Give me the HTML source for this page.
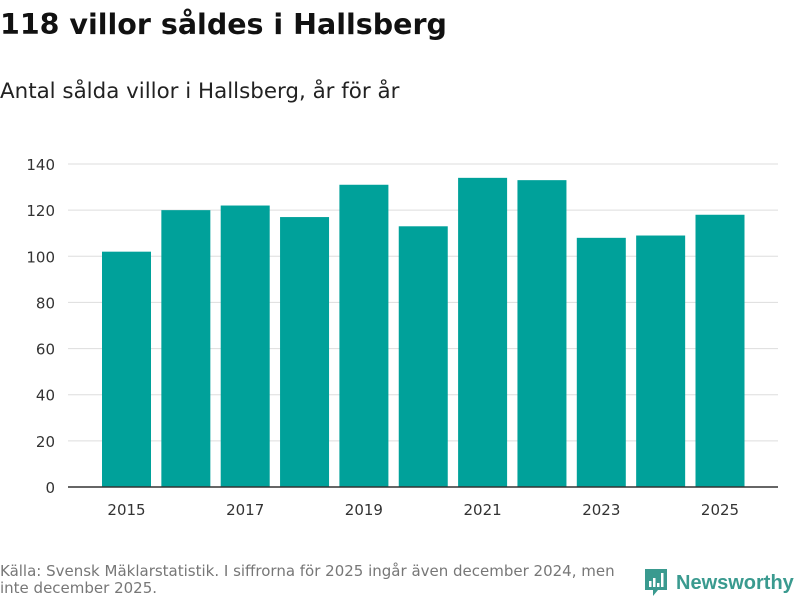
<!DOCTYPE html>
<html><head><meta charset="utf-8"><style>
body{margin:0;width:800px;height:600px;background:#fff;font-family:"DejaVu Sans","Liberation Sans",sans-serif;position:relative;overflow:hidden}
h1{position:absolute;left:0;top:8px;margin:0;font-size:28.5px;font-weight:bold;color:#111}
.sub{position:absolute;left:0;top:79px;font-size:21.4px;color:#222}
.src{position:absolute;left:0;top:563px;font-size:15px;color:#777;line-height:17px;width:645px}
.logo{position:absolute;left:644px;top:568px;display:flex;align-items:center;gap:8px;color:#3a9a8f;font-family:"Liberation Sans",sans-serif;font-size:20px;font-weight:bold}
</style></head><body>
<h1>118 villor såldes i Hallsberg</h1>
<div class="sub">Antal sålda villor i Hallsberg, år för år</div>
<svg id="chart" width="800" height="540" style="position:absolute;left:0;top:0"></svg>
<div class="src">Källa: Svensk Mäklarstatistik. I siffrorna för 2025 ingår även december 2024, men inte december 2025.</div>
<div class="logo"><svg width="24" height="30" viewBox="0 0 24 30"><path d="M1 1h22v21H14l-5 6v-6H1z" fill="#3a9a8f"/><rect x="5" y="13" width="2.5" height="6" fill="#fff"/><rect x="9" y="10" width="2.5" height="9" fill="#fff"/><rect x="13" y="15" width="2.5" height="4" fill="#fff"/><rect x="17" y="5" width="2.5" height="14" fill="#fff"/></svg><span>Newsworthy</span></div>
<script>
const years=["2015","2016","2017","2018","2019","2020","2021","2022","2023","2024","2025"];
const values=[102,120,122,117,131,113,134,133,108,109,118];
const yTicks=[0,20,40,60,80,100,120,140];
const xLabels=["2015","2017","2019","2021","2023","2025"];
const svg=document.getElementById('chart');const NS='http://www.w3.org/2000/svg';
const x0=68,x1=778,y0=487,yTop=164;
const y=v=>y0-(v/140)*(y0-yTop);
const step=59.35,bw=49;
const cx=i=>126.5+i*step;
function mk(t,a){const e=document.createElementNS(NS,t);for(const k in a)e.setAttribute(k,a[k]);svg.appendChild(e);return e;}
yTicks.forEach(v=>{
 if(v>0){const l=mk('line',{x1:x0,x2:x1,y1:y(v),y2:y(v),stroke:'#ddd','stroke-width':1});
 
 }
 const t=mk('text',{x:55,y:y(v)+6,'text-anchor':'end','font-size':15,fill:'#333'});t.textContent=v;
 
 
});
values.forEach((v,i)=>{
 const r=mk('rect',{x:cx(i)-bw/2,y:y(v),width:bw,height:y0-y(v),fill:'#00a19a'});
 
 
});
const ax=mk('line',{x1:x0,x2:x1,y1:y0,y2:y0,stroke:'#333','stroke-width':1.5});


years.forEach((yr,i)=>{
 if(xLabels.includes(yr)){const t=mk('text',{x:cx(i),y:515,'text-anchor':'middle','font-size':15,fill:'#333'});t.textContent=yr;
 
 }
});
</script>
</body></html>
